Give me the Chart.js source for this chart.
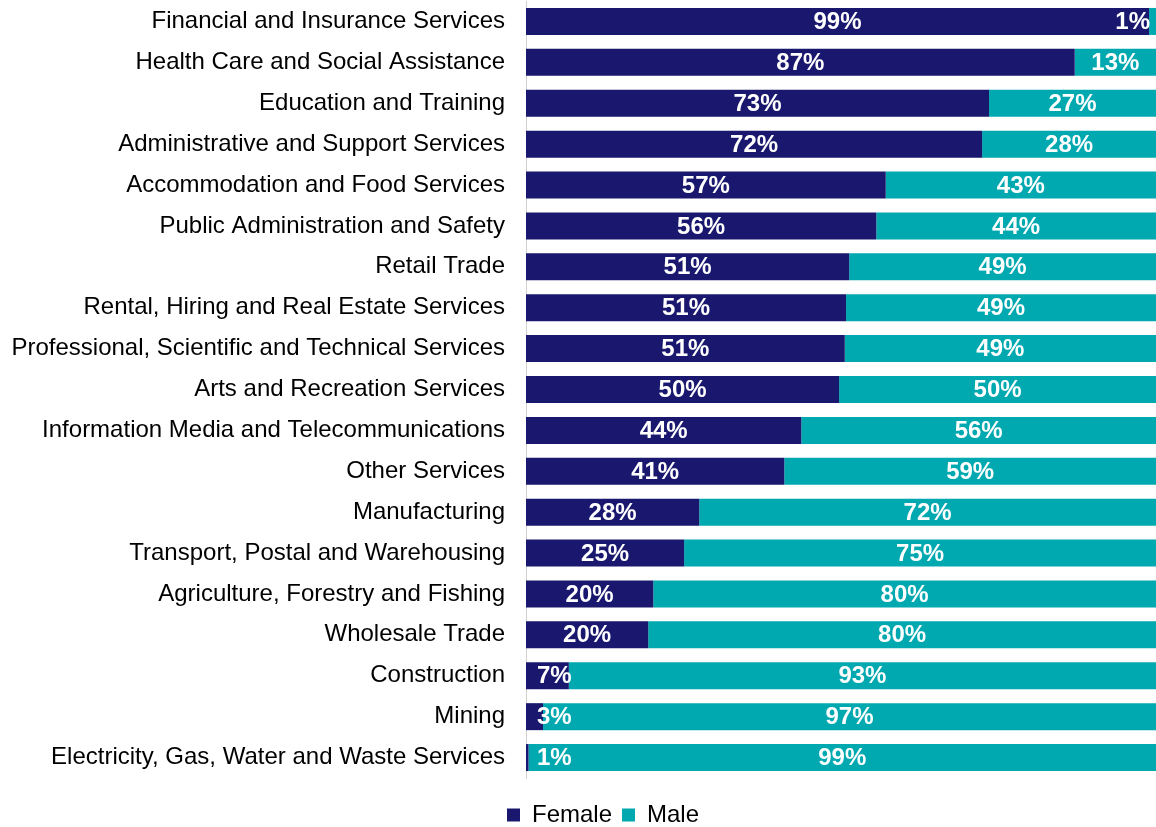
<!DOCTYPE html>
<html>
<head>
<meta charset="utf-8">
<script src="https://cdn.jsdelivr.net/npm/chart.js@4/dist/chart.umd.min.js"></script>
<style>
  html, body { margin: 0; padding: 0; background: #fff; }
  #wrap { width: 1156px; height: 827px; position: relative; }
</style>
</head>
<body>
<div id="wrap"><canvas id="c"></canvas></div>
<script>
const categories = [
  "Financial and Insurance Services",
  "Health Care and Social Assistance",
  "Education and Training",
  "Administrative and Support Services",
  "Accommodation and Food Services",
  "Public Administration and Safety",
  "Retail Trade",
  "Rental, Hiring and Real Estate Services",
  "Professional, Scientific and Technical Services",
  "Arts and Recreation Services",
  "Information Media and Telecommunications",
  "Other Services",
  "Manufacturing",
  "Transport, Postal and Warehousing",
  "Agriculture, Forestry and Fishing",
  "Wholesale Trade",
  "Construction",
  "Mining",
  "Electricity, Gas, Water and Waste Services"
];
const femaleValues = [98.9, 87.1, 73.5, 72.4, 57.1, 55.6, 51.3, 50.8, 50.6, 49.7, 43.7, 41.0, 27.5, 25.1, 20.2, 19.4, 6.8, 2.7, 0.4];
const maleValues   = [1.1, 12.9, 26.5, 27.6, 42.9, 44.4, 48.7, 49.2, 49.4, 50.3, 56.3, 59.0, 72.5, 74.9, 79.8, 80.6, 93.2, 97.3, 99.6];
const femaleLabels = ["99%","87%","73%","72%","57%","56%","51%","51%","51%","50%","44%","41%","28%","25%","20%","20%","7%","3%","1%"];
const maleLabels   = ["1%","13%","27%","28%","43%","44%","49%","49%","49%","50%","56%","59%","72%","75%","80%","80%","93%","97%","99%"];
const seriesNames = ["Female", "Male"];
const seriesColors = ["#19186e", "#00a8b0"];

const FONT = "Arial, 'Liberation Sans', sans-serif";

const barLabels = {
  id: 'barLabels',
  afterDatasetsDraw(chart) {
    const ctx = chart.ctx;
    const area = chart.chartArea;
    const labelSets = [femaleLabels, maleLabels];
    ctx.save();
    ctx.font = "bold 24px " + FONT;
    ctx.fillStyle = "#ffffff";
    ctx.textAlign = "center";
    ctx.textBaseline = "middle";
    chart.data.datasets.forEach((ds, di) => {
      const meta = chart.getDatasetMeta(di);
      meta.data.forEach((el, i) => {
        const txt = labelSets[di][i];
        const w = ctx.measureText(txt).width;
        let cx = (el.x + el.base) / 2;
        if (cx - w / 2 < area.left + 11) cx = area.left + 11 + w / 2;
        if (cx + w / 2 > area.right - 6) cx = area.right - 6 - w / 2;
        ctx.fillText(txt, cx, el.y + 1);
      });
    });
    ctx.restore();
  }
};

const legendShift = {
  id: 'legendShift',
  afterLayout(chart) {
    const lg = chart.legend;
    if (!lg) return;
    lg.left += 50;
    lg.top += 15;
    lg.bottom += 15;
  }
};

new Chart(document.getElementById('c'), {
  type: 'bar',
  data: {
    labels: categories,
    datasets: [
      { label: seriesNames[0], data: femaleValues, backgroundColor: seriesColors[0], borderWidth: 0 },
      { label: seriesNames[1], data: maleValues, backgroundColor: seriesColors[1], borderWidth: 0 }
    ]
  },
  options: {
    indexAxis: 'y',
    responsive: true,
    maintainAspectRatio: false,
    animation: false,
    layout: { padding: { left: 0, right: 0, top: 1, bottom: 5 } },
    datasets: { bar: { categoryPercentage: 1.0, barPercentage: 0.66 } },
    scales: {
      x: {
        stacked: true, min: 0, max: 100, display: false
      },
      y: {
        stacked: true,
        grid: { display: false, drawTicks: false },
        border: { display: true, color: '#d0d0d0', width: 1 },
        ticks: { color: '#000', font: { family: FONT, size: 24 }, padding: 21, autoSkip: false },
        afterFit(scale) {
          scale.width = 526;
          scale.paddingTop = 0;
          scale.paddingBottom = 0;
        }
      }
    },
    plugins: {
      legend: {
        position: 'bottom',
        labels: { color: '#000', font: { family: FONT, size: 24 }, boxWidth: 13, boxHeight: 13, padding: 10 }
      },
      tooltip: { enabled: false }
    }
  },
  plugins: [barLabels, legendShift]
});
</script>
</body>
</html>
